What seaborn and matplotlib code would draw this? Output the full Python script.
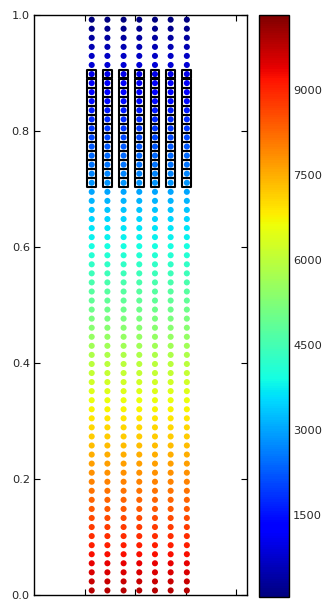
import pandas as pd
import matplotlib
matplotlib.use("Agg")
import matplotlib.pyplot as plt
import seaborn as sns

# column positions (x) and row positions (y) of the point grid
xs = [1.14, 1.45, 1.77, 2.08, 2.39, 2.70, 3.02]
ys = [0.0078, 0.0234, 0.0391, 0.0547, 0.0703, 0.0859, 0.1016, 0.1172,
      0.1328, 0.1484, 0.1641, 0.1797, 0.1953, 0.2109, 0.2266, 0.2422,
      0.2578, 0.2734, 0.2891, 0.3047, 0.3203, 0.3359, 0.3516, 0.3672,
      0.3828, 0.3984, 0.4141, 0.4297, 0.4453, 0.4609, 0.4766, 0.4922,
      0.5078, 0.5234, 0.5391, 0.5547, 0.5703, 0.5859, 0.6016, 0.6172,
      0.6328, 0.6484, 0.6641, 0.6797, 0.6953, 0.7109, 0.7266, 0.7422,
      0.7578, 0.7734, 0.7891, 0.8047, 0.8203, 0.8359, 0.8516, 0.8672,
      0.8828, 0.8984, 0.9141, 0.9297, 0.9453, 0.9609, 0.9766, 0.9922]
# value (colour) of each row, bottom to top
vals = [9843, 9688, 9532, 9377, 9221, 9066, 8911, 8755,
        8600, 8444, 8289, 8134, 7978, 7823, 7667, 7512,
        7357, 7201, 7046, 6890, 6735, 6580, 6424, 6269,
        6113, 5958, 5803, 5647, 5492, 5336, 5181, 5026,
        4870, 4715, 4559, 4404, 4249, 4093, 3938, 3782,
        3627, 3472, 3316, 3161, 3005, 2850, 2695, 2539,
        2384, 2228, 2073, 1918, 1762, 1607, 1451, 1296,
        1141, 985, 830, 674, 519, 364, 208, 51]
cbar_range = (51, 10337)
cbar_ticks = [1500, 3000, 4500, 6000, 7500, 9000]
sel_lo, sel_hi = 0.7, 0.9

rows = []
for y, v in zip(ys, vals):
    for x in xs:
        rows.append((x, y, v))
df = pd.DataFrame(rows, columns=["x", "y", "value"])
sel = df[(df["y"] > sel_lo) & (df["y"] < sel_hi)]

sns.set_style("ticks", {"xtick.direction": "in", "ytick.direction": "in"})
plt.rcParams["font.family"] = ["DejaVu Sans"]

jet = plt.get_cmap("jet")
fig = plt.figure(figsize=(3.24, 5.99), dpi=100)
ax = fig.add_axes([0.105, 0.0067, 0.656, 0.968])
cax = fig.add_axes([0.800, 0.0033, 0.092, 0.972])

sns.scatterplot(data=df, x="x", y="y", hue="value", palette=jet,
                hue_norm=cbar_range, s=19, linewidth=0, legend=False, ax=ax)
sns.scatterplot(data=sel, x="x", y="y", marker="s", s=40,
                facecolors="none", edgecolors="k", linewidth=1.5, ax=ax)

ax.set_xlim(0, 4.2)
ax.set_ylim(0, 1)
ax.set_xticks([1, 2, 3, 4])
ax.set_xticklabels([])
ax.set_yticks([0.0, 0.2, 0.4, 0.6, 0.8, 1.0])
ax.set_yticklabels(["0.0", "0.2", "0.4", "0.6", "0.8", "1.0"])
ax.set_xlabel("")
ax.set_ylabel("")
ax.tick_params(top=True, right=True, direction="in", length=4, width=0.8,
               labelsize=8.2, pad=3, color="k")
for s in ax.spines.values():
    s.set_color("black")
    s.set_linewidth(1)

sm = plt.cm.ScalarMappable(norm=plt.Normalize(*cbar_range), cmap=jet)
cb = fig.colorbar(sm, cax=cax, ticks=cbar_ticks)
cb.ax.tick_params(direction="in", length=4, width=0.8, labelsize=8.2, pad=3)
cb.outline.set_edgecolor("black")
cb.outline.set_linewidth(1)

fig.savefig("out.png", dpi=100)
